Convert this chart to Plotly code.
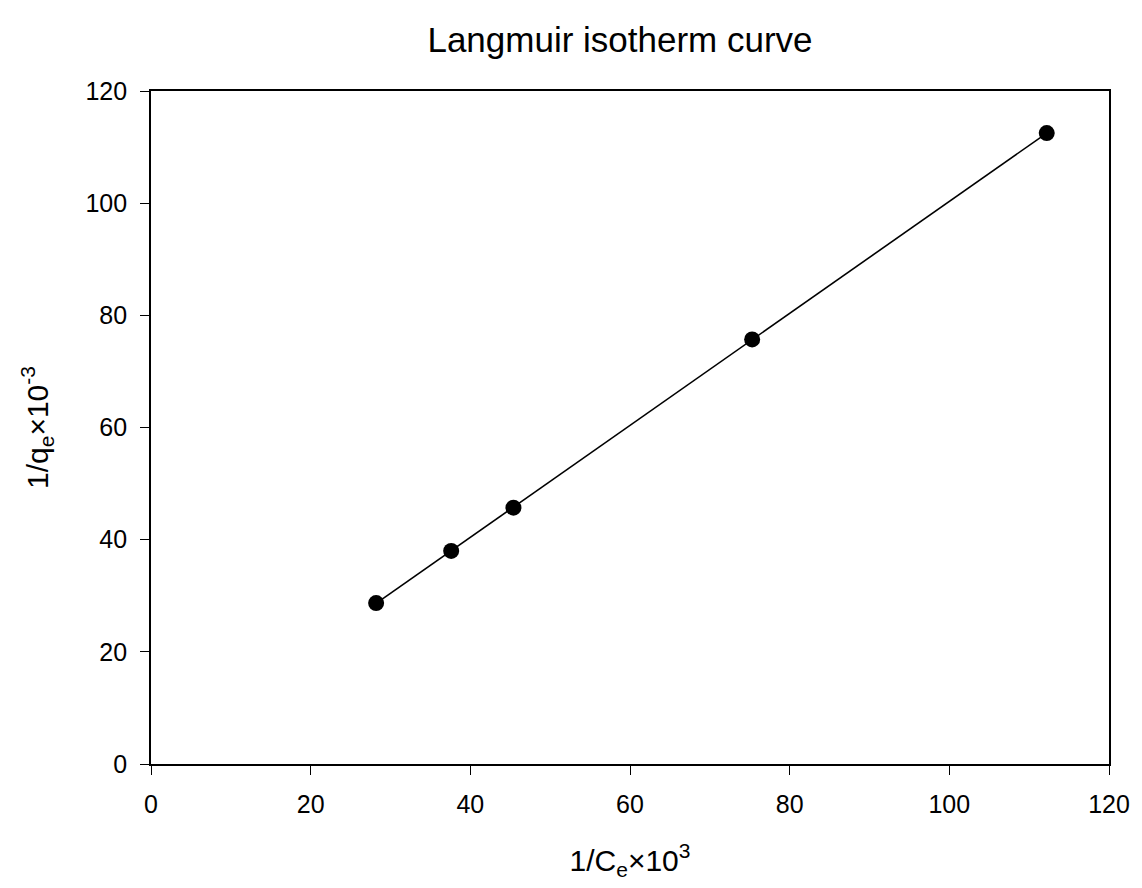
import numpy as np
import plotly.graph_objects as go

inv_ce = [28.2, 37.6, 45.4, 75.3, 112.2]
inv_qe = [28.7, 38.0, 45.7, 75.7, 112.5]

slope, intercept = np.polyfit(inv_ce, inv_qe, 1)
fit_x = [min(inv_ce), max(inv_ce)]
fit_y = [slope * v + intercept for v in fit_x]

FONT = "Liberation Sans, Arial, sans-serif"

fig = go.Figure()
fig.add_trace(go.Scatter(x=fit_x, y=fit_y, mode="lines",
                         line=dict(color="black", width=1.6), showlegend=False))
fig.add_trace(go.Scatter(x=inv_ce, y=inv_qe, mode="markers",
                         marker=dict(color="black", size=16), showlegend=False))

axis_common = dict(range=[0, 120], dtick=20, tick0=0, showgrid=False, zeroline=False,
                   showline=True, linecolor="black", linewidth=1.7, mirror=True,
                   ticks="outside", ticklen=9, tickwidth=1.3, tickcolor="black",
                   ticklabelstandoff=8,
                   tickfont=dict(family=FONT, size=25, color="black"))

W, H = 1134, 880
L, R, T, B = 143, 31, 83, 124

fig.update_layout(
    width=W, height=H,
    margin=dict(l=L, r=R, t=T, b=B),
    paper_bgcolor="white", plot_bgcolor="white",
    title=dict(text="Langmuir isotherm curve",
               x=612 / W, xanchor="center",
               y=1 - 32 / H, yanchor="middle",
               font=dict(family=FONT, size=35, color="black")),
    font=dict(family=FONT, color="black"),
)
fig.update_xaxes(**axis_common,
                 title=dict(text="1/C<sub>e</sub>×10<sup>3</sup>", standoff=33,
                            font=dict(family=FONT, size=30, color="black")))
fig.update_yaxes(**axis_common,
                 title=dict(text="1/q<sub>e</sub>×10<sup>-3</sup>", standoff=28,
                            font=dict(family=FONT, size=30, color="black")))

fig.write_html("out.html")
